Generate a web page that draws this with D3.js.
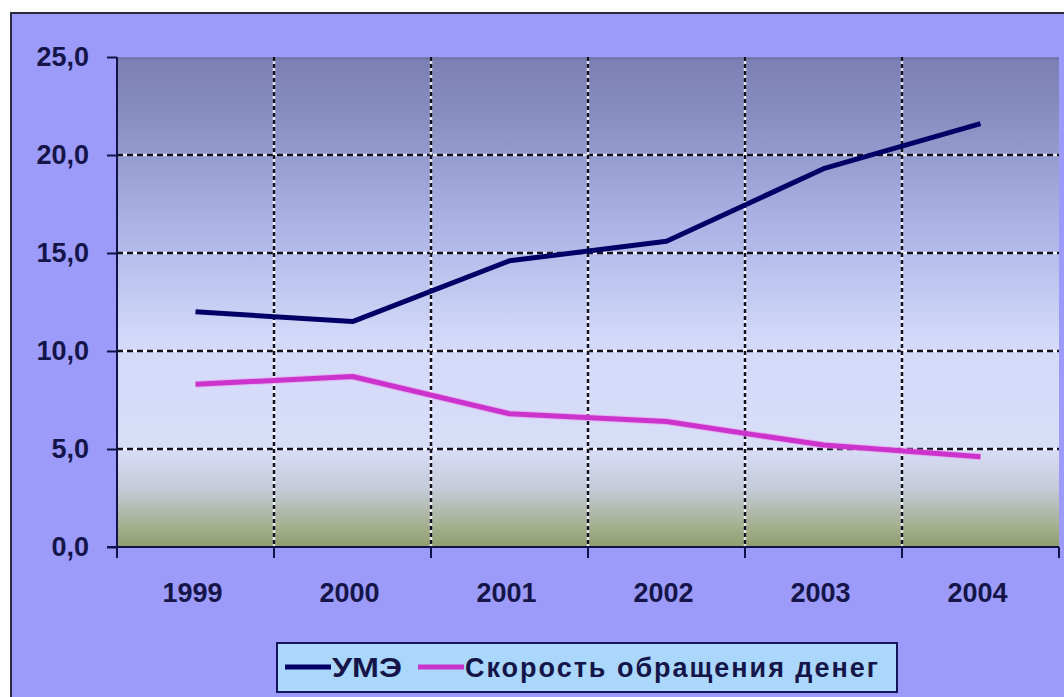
<!DOCTYPE html>
<html>
<head>
<meta charset="utf-8">
<script src="https://cdn.jsdelivr.net/npm/d3@7"></script>
<style>
  html, body { margin: 0; padding: 0; background: #ffffff; }
  svg { display: block; }
  text { font-family: "Liberation Sans", Arial, sans-serif; font-weight: bold; fill: #15154a; }
</style>
</head>
<body>
<svg id="chart" width="1064" height="697"></svg>
<script>
// Years on the category axis
const years = ["1999", "2000", "2001", "2002", "2003", "2004"];
// УМЭ series
const umeValues = [12.0, 11.5, 14.6, 15.6, 19.3, 21.6];
// Скорость обращения денег series
const velocityValues = [8.3, 8.7, 6.8, 6.4, 5.2, 4.6];
// Value-axis ticks
const yTicks = [0, 5, 10, 15, 20, 25];
// Legend entries
const seriesNames = ["УМЭ", "Скорость обращения денег"];

const svg = d3.select("#chart");
const W = 1064, H = 697;
const plot = { left: 117, right: 1059, top: 57, bottom: 547 };

// Chart area frame
svg.append("rect")
  .attr("x", 11).attr("y", 13).attr("width", W).attr("height", H)
  .attr("fill", "#9c9bf9").attr("stroke", "#2a2a3a").attr("stroke-width", 2);

// Plot area gradient
const defs = svg.append("defs");
const grad = defs.append("linearGradient").attr("id", "plotGrad")
  .attr("x1", 0).attr("y1", 0).attr("x2", 0).attr("y2", 1);
[
  [0.00, "#7b7fb4"],
  [0.12, "#898ec1"],
  [0.35, "#adb4e6"],
  [0.58, "#d3daf9"],
  [0.80, "#d8ddf7"],
  [0.88, "#c5cbd9"],
  [0.95, "#a8b296"],
  [1.00, "#909e6c"]
].forEach(([o, c]) => grad.append("stop").attr("offset", o).attr("stop-color", c));

const x = d3.scaleBand().domain(years).range([plot.left, plot.right]).padding(0);
const y = d3.scaleLinear().domain([0, 25]).range([plot.bottom, plot.top]);

svg.append("rect")
  .attr("x", plot.left).attr("y", plot.top)
  .attr("width", plot.right - plot.left).attr("height", plot.bottom - plot.top)
  .attr("fill", "url(#plotGrad)");
// thin darker strip along the top edge of the plot area
svg.append("rect")
  .attr("x", plot.left).attr("y", plot.top)
  .attr("width", plot.right - plot.left).attr("height", 3)
  .attr("fill", "#6f73a8").attr("opacity", 0.6);

// Grid lines: light underlay with dark dashes on top
const grid = svg.append("g");
const hGrid = yTicks.filter(v => v > 0 && v < 25);
const boundaries = years.map(c => x(c)).concat([x(years[years.length - 1]) + x.bandwidth()]);
const vGrid = boundaries.slice(1, -1);

hGrid.forEach(v => {
  grid.append("line").attr("x1", plot.left).attr("x2", plot.right)
    .attr("y1", y(v)).attr("y2", y(v)).attr("stroke", "#ffffff").attr("stroke-width", 2.5).attr("opacity", 0.75);
  grid.append("line").attr("x1", plot.left).attr("x2", plot.right)
    .attr("y1", y(v)).attr("y2", y(v)).attr("stroke", "#111122").attr("stroke-width", 2.5)
    .attr("stroke-dasharray", "6,4");
});
vGrid.forEach(px => {
  grid.append("line").attr("x1", px).attr("x2", px)
    .attr("y1", plot.top).attr("y2", plot.bottom).attr("stroke", "#ffffff").attr("stroke-width", 2.5).attr("opacity", 0.75);
  grid.append("line").attr("x1", px).attr("x2", px)
    .attr("y1", plot.top).attr("y2", plot.bottom).attr("stroke", "#111122").attr("stroke-width", 2.5)
    .attr("stroke-dasharray", "4,3");
});

// Value axis
const yAxis = svg.append("g").attr("transform", `translate(${plot.left},0)`)
  .call(d3.axisLeft(y).tickValues(yTicks).tickSize(10).tickPadding(18)
    .tickFormat(d => d.toFixed(1).replace(".", ",")));
yAxis.select(".domain").attr("stroke", "#12124a").attr("stroke-width", 2).attr("d", `M-0,${plot.top}V${plot.bottom}`);
yAxis.selectAll(".tick line").attr("stroke", "#12124a").attr("stroke-width", 2);
yAxis.selectAll(".tick text").style("font-size", "27px").attr("fill", "#15154a");

// Category axis: labels centred in bands
const xAxis = svg.append("g").attr("transform", `translate(-3,${plot.bottom})`)
  .call(d3.axisBottom(x).tickSize(0).tickPadding(36));
xAxis.select(".domain").remove();
xAxis.selectAll(".tick text").style("font-size", "27px").attr("fill", "#15154a");

// Axis line and tick marks at band boundaries
svg.append("line").attr("x1", plot.left - 10).attr("x2", plot.right)
  .attr("y1", plot.bottom).attr("y2", plot.bottom).attr("stroke", "#12124a").attr("stroke-width", 2);
boundaries.forEach(px => {
  svg.append("line").attr("x1", px).attr("x2", px)
    .attr("y1", plot.bottom).attr("y2", plot.bottom + 11).attr("stroke", "#12124a").attr("stroke-width", 2);
});

// Series lines
const line = d3.line().x((d, i) => x(years[i]) + x.bandwidth() / 2).y(d => y(d));
svg.append("path").datum(velocityValues).attr("d", line)
  .attr("fill", "none").attr("stroke", "#f08cf0").attr("stroke-width", 7).attr("opacity", 0.5)
  .attr("stroke-linejoin", "round");
svg.append("path").datum(velocityValues).attr("d", line)
  .attr("fill", "none").attr("stroke", "#cc33cc").attr("stroke-width", 5)
  .attr("stroke-linejoin", "round");
svg.append("path").datum(umeValues).attr("d", line)
  .attr("fill", "none").attr("stroke", "#000066").attr("stroke-width", 5)
  .attr("stroke-linejoin", "round");

// Legend
const legend = svg.append("g");
legend.append("rect").attr("x", 277).attr("y", 643).attr("width", 620).attr("height", 49)
  .attr("fill", "#aad7fb").attr("stroke", "#14145a").attr("stroke-width", 2);
const colors = ["#000066", "#cc33cc"];
const itemX = [285, 418];
const textWidths = [70, 413];
const fit = ["spacingAndGlyphs", "spacing"];
seriesNames.forEach((name, i) => {
  legend.append("line").attr("x1", itemX[i]).attr("x2", itemX[i] + 46)
    .attr("y1", 667).attr("y2", 667).attr("stroke", colors[i]).attr("stroke-width", 5);
  legend.append("text").attr("x", itemX[i] + 47).attr("y", 677)
    .style("font-size", "27px")
    .attr("textLength", textWidths[i]).attr("lengthAdjust", fit[i])
    .text(name);
});
</script>
</body>
</html>
